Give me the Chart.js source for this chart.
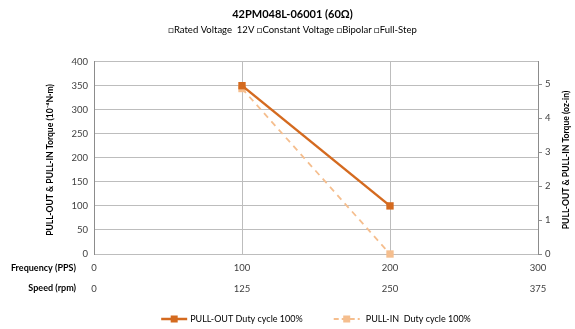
<!DOCTYPE html>
<html>
<head>
<meta charset="utf-8">
<script src="https://cdn.jsdelivr.net/npm/chart.js@4"></script>
<style>
  html, body { margin: 0; padding: 0; background: #fff; }
  #wrap { width: 575px; height: 329px; }
</style>
</head>
<body>
<div id="wrap"><canvas id="torqueChart" width="575" height="329"></canvas></div>
<script>
// Chart data
const frequency = [100, 200];            // PPS
const pullOut = [350, 100];              // 10^-4 N·m
const pullIn = [344, 0];                 // 10^-4 N·m
const freqTicks = [0, 100, 200, 300];
const speedTicks = [0, 125, 250, 375];
const ozInTicks = [0, 1, 2, 3, 4, 5];

const FONT = 'Lato, "Open Sans", sans-serif';
const OUT_COLOR = '#D46A1F';
const IN_COLOR = '#F5BE8E';

// Side labels, rotated axis titles and the bottom legend
const extras = {
    id: 'extras',
    afterDraw(chart) {
        const ctx = chart.ctx;
        const area = chart.chartArea;
        ctx.save();
        ctx.fillStyle = '#000';

        // Row labels to the left of the two x axes
        ctx.font = 'bold 9px ' + FONT;
        ctx.textAlign = 'right';
        ctx.textBaseline = 'middle';
        ctx.fillText('Frequency (PPS)', 76, 268);
        ctx.fillText('Speed (rpm)', 76, 288);

        // Axis titles, both reading bottom to top
        ctx.font = 'bold 8.6px ' + FONT;
        ctx.textAlign = 'center';
        const midY = 160;
        [[50, 'PULL-OUT & PULL-IN Torque (10\u207B\u2074N\u00B7m)'],
         [566, 'PULL-OUT & PULL-IN Torque (oz-in)']].forEach(([x, t]) => {
            ctx.save();
            ctx.translate(x, midY);
            ctx.rotate(-Math.PI / 2);
            ctx.fillText(t, 0, 0);
            ctx.restore();
        });

        // Legend: line + square swatches
        ctx.font = '9px ' + FONT;
        ctx.textAlign = 'left';
        const y = 319;
        const sw = 26;
        const sets = chart.data.datasets;
        const w1 = ctx.measureText(sets[0].label).width;
        const w2 = ctx.measureText(sets[1].label).width;
        const total = sw + 3 + w1 + 31 + sw + 6 + w2;
        let x = (area.left + area.right) / 2 - total / 2;
        sets.forEach((d, i) => {
            ctx.strokeStyle = d.borderColor;
            ctx.lineWidth = i === 0 ? 2.5 : 2;
            ctx.setLineDash(i === 0 ? [] : [5, 3]);
            ctx.beginPath();
            ctx.moveTo(x, y);
            ctx.lineTo(x + sw, y);
            ctx.stroke();
            ctx.setLineDash([]);
            ctx.fillStyle = d.borderColor;
            ctx.fillRect(x + sw / 2 - 3.5, y - 3.5, 7, 7);
            x += sw + (i === 0 ? 3 : 6);
            ctx.fillStyle = '#000';
            ctx.fillText(d.label, x, y);
            x += (i === 0 ? w1 : w2) + 31;
        });
        ctx.restore();
    }
};

const ctx = document.getElementById('torqueChart').getContext('2d');
new Chart(ctx, {
    type: 'line',
    data: {
        datasets: [{
            label: 'PULL-OUT Duty cycle 100%',
            data: frequency.map((f, i) => ({ x: f, y: pullOut[i] })),
            borderColor: OUT_COLOR,
            backgroundColor: OUT_COLOR,
            borderWidth: 2.5,
            pointStyle: 'rect',
            pointRadius: 5.2,
            pointBackgroundColor: OUT_COLOR,
            pointBorderWidth: 0,
            clip: false,
            xAxisID: 'x',
            yAxisID: 'y',
            order: 1
        }, {
            label: 'PULL-IN  Duty cycle 100%',
            data: frequency.map((f, i) => ({ x: f, y: pullIn[i] })),
            borderColor: IN_COLOR,
            backgroundColor: IN_COLOR,
            borderWidth: 1.8,
            borderDash: [6, 5],
            pointStyle: 'rect',
            pointRadius: 5.2,
            pointBackgroundColor: IN_COLOR,
            pointBorderWidth: 0,
            clip: false,
            xAxisID: 'x',
            yAxisID: 'y',
            order: 2
        }]
    },
    options: {
        responsive: false,
        animation: false,
        layout: { padding: { left: 10, right: 0, top: 0, bottom: 21 } },
        scales: {
            x: {
                type: 'linear',
                position: 'bottom',
                min: 0, max: 300,
                afterBuildTicks: s => { s.ticks = freqTicks.map(v => ({ value: v })); },
                ticks: { font: { size: 9.5, family: FONT }, color: '#404040', padding: 8, maxRotation: 0 },
                grid: { color: '#BDBDBD', drawTicks: false },
                border: { display: false },
                afterFit: s => { s.height = 24; }
            },
            x2: {
                type: 'linear',
                position: 'bottom',
                min: 0, max: 375,
                afterBuildTicks: s => { s.ticks = speedTicks.map(v => ({ value: v })); },
                ticks: { font: { size: 9.5, family: FONT }, color: '#404040', padding: 5, maxRotation: 0 },
                grid: { display: false, drawTicks: false },
                border: { display: false },
                afterFit: s => { s.height = 30; }
            },
            y: {
                position: 'left',
                min: 0, max: 400,
                ticks: { stepSize: 50, font: { size: 9.5, family: FONT }, color: '#404040', padding: 6 },
                grid: { color: '#BDBDBD', drawTicks: false },
                border: { color: '#8C8C8C' },
                afterFit: s => { s.width = 84; }
            },
            y2: {
                position: 'right',
                min: 0, max: 400 / 70.615,
                afterBuildTicks: s => { s.ticks = ozInTicks.map(v => ({ value: v })); },
                ticks: { font: { size: 9.5, family: FONT }, color: '#404040', padding: 3 },
                grid: { drawOnChartArea: false, tickLength: 4, color: '#8C8C8C' },
                border: { color: '#8C8C8C' },
                afterFit: s => { s.width = 37; }
            }
        },
        plugins: {
            title: {
                display: true,
                text: '42PM048L-06001 (60\u03A9)',
                font: { size: 11, weight: 'bold', family: FONT },
                color: '#000',
                padding: { top: 8, bottom: 3 }
            },
            subtitle: {
                display: true,
                text: '\u25A1Rated Voltage  12V \u25A1Constant Voltage \u25A1Bipolar \u25A1Full-Step',
                font: { size: 9.5, family: FONT },
                color: '#000',
                padding: { bottom: 26 }
            },
            legend: { display: false },
            tooltip: { enabled: false }
        }
    },
    plugins: [extras]
});
</script>
</body>
</html>
